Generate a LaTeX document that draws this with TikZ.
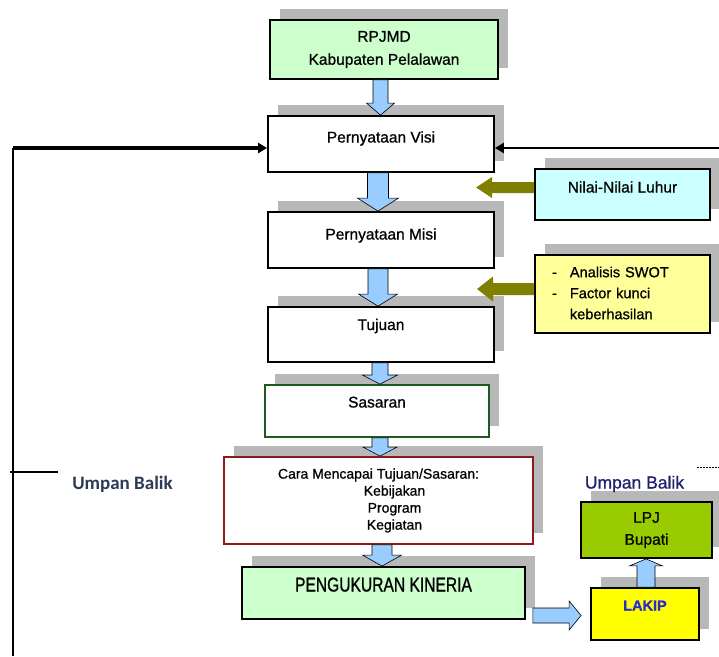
\documentclass[tikz,border=0pt]{standalone}
\usepackage{fontspec}
\setmainfont{Liberation Sans}[FakeBold=0.8]
\newfontfamily\carl{Carlito}
\newfontfamily\condfont[FakeStretch=0.78,FakeBold=1]{Liberation Sans}
\usetikzlibrary{shadows,arrows.meta,calc}
\definecolor{lgreen}{HTML}{CCFFCC}
\definecolor{lcyan}{HTML}{CCFFFF}
\definecolor{lyellow}{HTML}{FFFF99}
\definecolor{ogreen}{HTML}{99CC00}
\definecolor{byellow}{HTML}{FFFF00}
\definecolor{dgreen}{HTML}{1E5A1E}
\definecolor{dred}{HTML}{8B1A1A}
\definecolor{shadowgray}{HTML}{B8B8B8}
\definecolor{blkblue}{HTML}{99CCFF}
\definecolor{olivearr}{HTML}{808000}
\definecolor{lakipblue}{HTML}{2A2AD0}
\definecolor{navytext}{HTML}{1F1F6A}
\definecolor{slatetext}{HTML}{2B3A55}
\newcommand\rz[2]{\raisebox{#1}[0pt][0pt]{#2}}
\newcommand\blkdown[7]{\path[#1] let \p1=(#3), \p2=(#4) in
  (#2pt-#5pt,\y1) -- (#2pt-#5pt,\y2+#7pt) -- (#2pt-#6pt,\y2+#7pt) -- (#2pt,\y2)
  -- (#2pt+#6pt,\y2+#7pt) -- (#2pt+#5pt,\y2+#7pt) -- (#2pt+#5pt,\y1) -- cycle;}
\newcommand\blkup[7]{\path[#1] let \p1=(#3), \p2=(#4) in
  (#2pt-#5pt,\y1) -- (#2pt-#5pt,\y2-#7pt) -- (#2pt-#6pt,\y2-#7pt) -- (#2pt,\y2)
  -- (#2pt+#6pt,\y2-#7pt) -- (#2pt+#5pt,\y2-#7pt) -- (#2pt+#5pt,\y1) -- cycle;}
\newcommand\blkleft[7]{\path[#1] let \p1=(#3), \p2=(#4) in
  (\x1,-#2pt+#5pt) -- (\x2+#7pt,-#2pt+#5pt) -- (\x2+#7pt,-#2pt+#6pt) -- (\x2,-#2pt)
  -- (\x2+#7pt,-#2pt-#6pt) -- (\x2+#7pt,-#2pt-#5pt) -- (\x1,-#2pt-#5pt) -- cycle;}
\newcommand\blkright[7]{\path[#1] let \p1=(#3), \p2=(#4) in
  (\x1,-#2pt+#5pt) -- (\x2-#7pt,-#2pt+#5pt) -- (\x2-#7pt,-#2pt+#6pt) -- (\x2,-#2pt)
  -- (\x2-#7pt,-#2pt-#6pt) -- (\x2-#7pt,-#2pt-#5pt) -- (\x1,-#2pt-#5pt) -- cycle;}
\tikzset{
  shadowed/.style={drop shadow={shadow xshift=10pt, shadow yshift=11pt, fill=shadowgray, opacity=1}},
  box/.style={shadowed, draw=black, line width=1.8pt, fill=white, inner sep=0pt,
    font=\fontsize{15.5}{18}\selectfont},
  one/.style={text height=0.75em, text depth=0.25em},
  bluearr/.style={fill=blkblue, draw=black, line width=0.6pt},
  olivearrow/.style={fill=olivearr},
  fbline/.style={draw=black, line width=2.5pt},
  fbarrow/.style={draw=black, -{Triangle[length=9pt,width=10pt]}},
}
\begin{document}
\begin{tikzpicture}[x=1pt,y=-1pt]
\useasboundingbox (0,0) rectangle (719,656);
% boxes
\node[box, fill=lgreen, minimum width=228pt, minimum height=59pt, align=center,
  font=\fontsize{15.5}{23}\selectfont] (rpjmd) at (384,49.5) {RPJMD\\Kabupaten Pelalawan};
\node[box, one, minimum width=226pt, minimum height=56pt] (visi) at (381,144) {\rz{4pt}{Pernyataan Visi}};
\node[box, one, minimum width=226pt, minimum height=56pt] (misi) at (381,240) {\rz{3pt}{Pernyataan Misi}};
\node[box, one, minimum width=226pt, minimum height=55pt] (tujuan) at (381,334.5) {\rz{7pt}{Tujuan}};
\node[box, one, draw=dgreen, minimum width=224pt, minimum height=52pt] (sasaran) at (377,411) {\rz{6pt}{Sasaran}};
\node[box, draw=dred, minimum width=309pt, minimum height=87pt, align=center,
  font=\fontsize{14}{17}\selectfont] (cara) at (378.5,500.5)
  {Cara Mencapai Tujuan/Sasaran:\\\hspace*{32pt}Kebijakan\\\hspace*{32pt}Program\\\hspace*{32pt}Kegiatan};
\node[box, one, fill=lgreen, minimum width=283pt, minimum height=52pt,
  font=\condfont\fontsize{20}{24}\selectfont] (peng) at (383.5,593) {\rz{4pt}{PENGUKURAN KINERIA}};
\node[box, one, fill=lcyan, minimum width=175pt, minimum height=51pt] (nilai) at (622.5,194.5) {\rz{4.5pt}{Nilai-Nilai Luhur}};
\node[box, fill=lyellow, minimum width=175pt, minimum height=78pt, inner xsep=17pt, text width=141pt,
  align=left, font=\fontsize{14.6}{21}\selectfont] (swot) at (622.5,294)
  {\begin{tabular}{@{}l@{\hspace{13pt}}l@{}}-&Analisis SWOT\\-&Factor kunci\\&keberhasilan\end{tabular}};
\node[box, fill=ogreen, minimum width=131pt, minimum height=56pt, align=center,
  font=\fontsize{15.5}{22}\selectfont] (lpj) at (646.5,530) {LPJ\\Bupati};
\node[box, one, fill=byellow, minimum width=108pt, minimum height=52pt, text=lakipblue,
  font=\bfseries\fontsize{14.5}{17}\selectfont] (lakip) at (645,614) {\rz{6pt}{LAKIP}};
% labels
\node[font=\carl\bfseries\fontsize{19}{22}\selectfont, text=slatetext] (ubleft) at (122.5,484) {Umpan Balik};
\node[font=\fontsize{17.5}{20}\selectfont, text=navytext] (ubright) at (634.5,484) {Umpan Balik};
% free ends
\coordinate (nilaitip) at (476,187.5);
\coordinate (swottip) at (477,289);
\coordinate (fbtop) at (13,148);
\coordinate (fbbot) at (13,656);
\coordinate (rtop) at (719,148);
\coordinate (tickA) at (10,472);
\coordinate (tickB) at (58,472);
\coordinate (dotA) at (697,467);
\coordinate (dotB) at (719,467);
% block arrows
\blkdown{bluearr}{380.5}{rpjmd.south}{visi.north}{7.5}{14}{12}
\blkdown{bluearr}{378}{visi.south}{misi.north}{10.5}{20.5}{13}
\blkdown{bluearr}{378}{misi.south}{tujuan.north}{10}{19.5}{12}
\blkdown{bluearr}{380}{tujuan.south}{sasaran.north}{8}{17.5}{9}
\blkdown{bluearr}{380}{sasaran.south}{cara.north}{8}{17}{9}
\blkdown{bluearr}{382}{cara.south}{peng.north}{10}{19.5}{11}
\blkup{bluearr}{646}{lakip.north}{lpj.south}{9}{16.5}{7}
\blkright{bluearr}{615.5}{$(peng.east)+(7,0)$}{$(lakip.west)+(-9,0)$}{7.5}{14.5}{12}
\blkleft{olivearrow}{187.5}{nilai.west}{nilaitip}{5.5}{10.5}{16}
\blkleft{olivearrow}{289}{swot.west}{swottip}{6}{12.5}{16}
% feedback lines
\draw[fbline] (fbtop) -- (fbbot);
\draw[fbarrow, line width=3.5pt] (fbtop) -- (fbtop -| visi.west);
\draw[fbarrow, line width=2.5pt] (rtop) -- (rtop -| visi.east);
\draw[draw=black, line width=2pt] (tickA) -- (tickB);
\draw[draw=black, line width=0.8pt, dash pattern=on 2pt off 1pt] (dotA) -- (dotB);
\end{tikzpicture}
\end{document}
